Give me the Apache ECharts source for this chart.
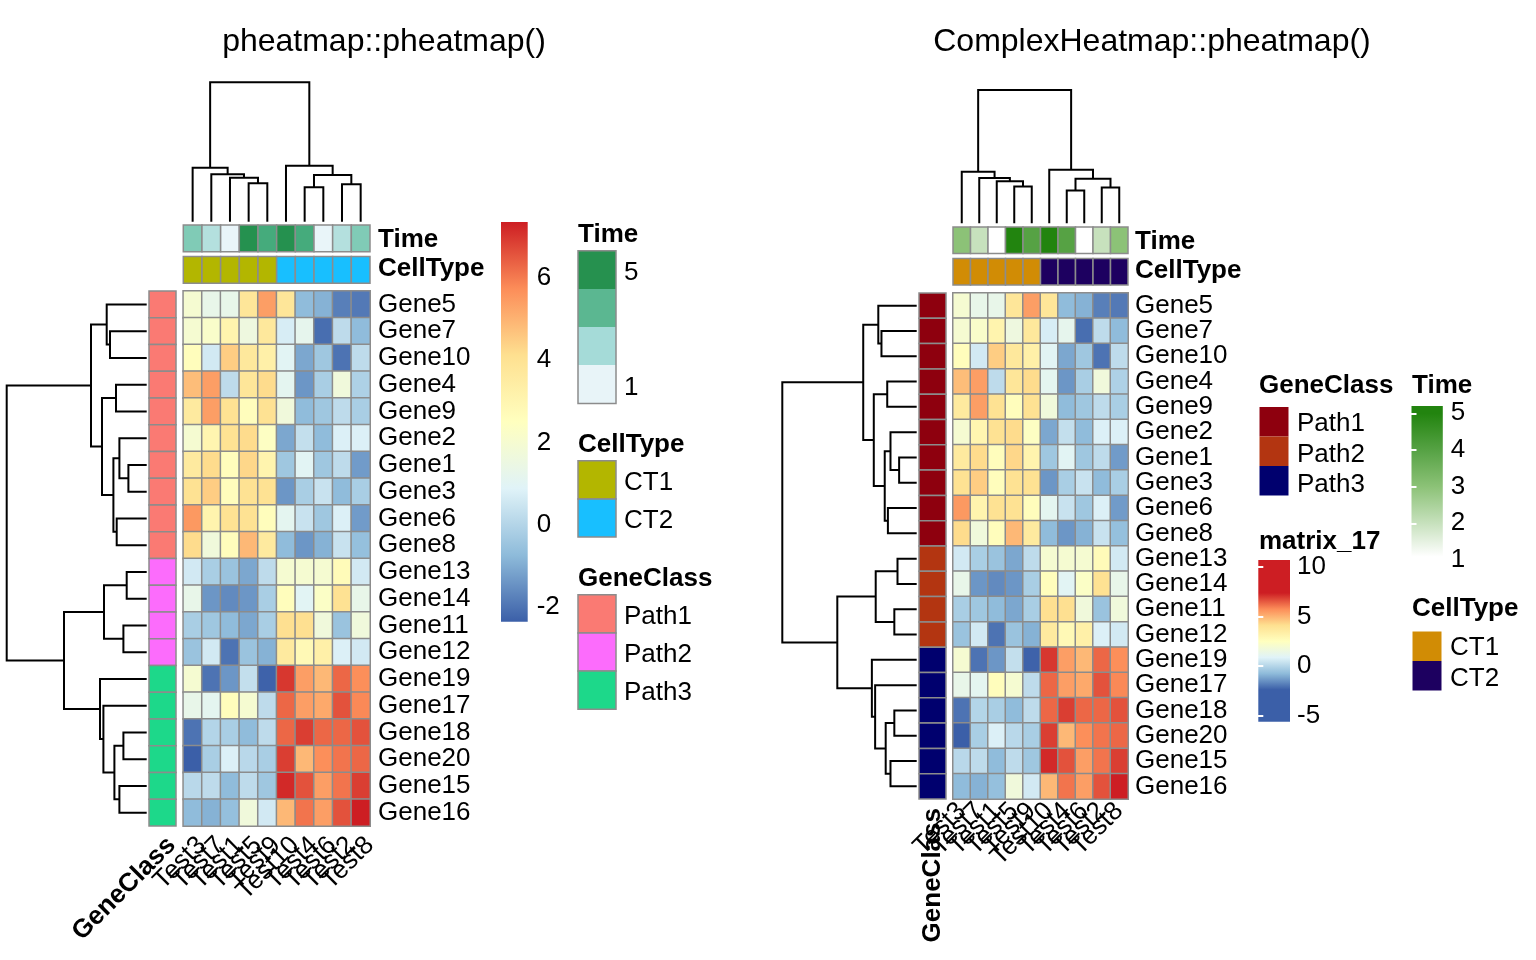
<!DOCTYPE html>
<html><head><meta charset="utf-8">
<script src="https://cdn.jsdelivr.net/npm/echarts@6/dist/echarts.min.js"></script>
<style>html,body{margin:0;padding:0;background:#fff}#c{width:1536px;height:960px}</style>
</head><body><div id="c"></div>
<script>
// ---------------- data ----------------
const genes = ['Gene5','Gene7','Gene10','Gene4','Gene9','Gene2','Gene1','Gene3','Gene6','Gene8',
  'Gene13','Gene14','Gene11','Gene12','Gene19','Gene17','Gene18','Gene20','Gene15','Gene16'];
const samples = ['Test3','Test7','Test1','Test5','Test9','Test10','Test4','Test6','Test2','Test8'];
// rows follow genes, columns follow samples
const expr = [
  [2.0, 1.3, 1.3, 3.8, 5.4, 3.8, -0.7, -0.9, -1.8, -1.9],
  [2.0, 2.2, 3.1, 1.6, 3.7, 0.7, 1.2, -2.1, 0.2, -0.7],
  [2.6, 0.6, 4.5, 3.7, 3.3, 1.0, -1.1, -0.4, -2.0, 0.2],
  [4.8, 5.4, 0.2, 3.8, 4.2, 1.1, -1.4, -0.2, 1.7, -0.1],
  [3.6, 5.4, 4.0, 2.6, 4.0, 1.7, -0.7, -0.4, 0.2, -0.2],
  [2.0, 3.0, 4.0, 4.2, 2.4, -1.1, 0.3, -0.7, 0.8, 0.8],
  [3.6, 4.2, 2.6, 4.3, 3.1, -0.4, 1.0, -0.4, 0.2, -1.3],
  [4.0, 4.5, 2.6, 4.0, 4.0, -1.4, -0.2, 0.4, -0.7, -0.2],
  [5.5, 3.1, 4.0, 4.0, 2.6, 1.1, 0.4, -0.4, 0.8, -1.3],
  [4.2, 1.7, 2.6, 4.9, 3.6, -0.7, -1.4, -0.9, 0.4, -0.6],
  [0.6, -0.2, -0.5, -1.1, 0.2, 2.0, 2.0, 2.0, 2.7, 0.6],
  [1.3, -1.4, -1.6, -1.4, -0.2, 2.6, 1.0, 2.3, 4.0, 1.3],
  [-0.2, -0.4, -0.7, -1.1, -0.2, 4.1, 4.1, 1.7, -0.5, 1.7],
  [-0.5, 0.6, -2.0, -0.5, -0.9, 3.6, 2.8, 3.3, 0.8, 0.6],
  [2.0, -2.0, -1.4, 0.3, -2.3, 7.0, 5.4, 4.9, 6.3, 5.7],
  [1.3, 1.1, 2.6, 2.0, 0.2, 6.3, 5.4, 5.2, 6.6, 5.8],
  [-2.0, 0.0, -0.2, -0.7, 0.2, 6.3, 6.9, 6.3, 6.3, 6.6],
  [-2.36, -0.2, 0.8, 0.1, -0.2, 6.9, 4.9, 5.7, 6.1, 6.3],
  [0.1, 0.2, -0.7, 0.2, -0.4, 7.2, 6.6, 5.4, 6.1, 6.9],
  [-0.7, -0.9, -0.6, 1.7, 0.6, 4.9, 6.1, 5.4, 6.6, 7.36]
];
const timeValues = [3, 2, 1, 5, 4, 5, 4, 1, 2, 3];
const cellTypes = ['CT1','CT1','CT1','CT1','CT1','CT2','CT2','CT2','CT2','CT2'];
const geneClasses = ['Path1','Path1','Path1','Path1','Path1','Path1','Path1','Path1','Path1','Path1',
  'Path2','Path2','Path2','Path2','Path3','Path3','Path3','Path3','Path3','Path3'];
// hclust-style merges: negative = leaf (1-based display position), positive = earlier merge
const colMerges = [[-4,-5],[-3,1],[-2,2],[-1,3],[-7,-8],[-9,-10],[5,6],[-6,7],[4,8]];
const colHeights = [38.4, 44.0, 47.4, 54.0, 34.4, 37.4, 46.7, 56.0, 139.4];
const rowMerges = [[-2,-3],[-1,1],[-4,-5],[-7,-8],[-6,4],[-9,-10],[5,6],[3,7],[2,8],
  [-11,-12],[-13,-14],[10,11],[-17,-18],[-19,-20],[13,14],[-16,15],[-15,16],[12,17],[9,18]];
const rowHeights = [36.7, 40.0, 30.7, 18.3, 27.3, 30.0, 33.3, 44.7, 55.7,
  20.0, 23.3, 42.7, 23.3, 27.3, 32.3, 43.3, 46.7, 82.7, 140.0];
const exprMin = -2.36, exprMax = 7.36;
const exprTicksLeft = [-2, 0, 2, 4, 6];
const exprTicksRight = [-5, 0, 5, 10];
const timeTicks = [1, 2, 3, 4, 5];
const classLevels = ['Path1','Path2','Path3'];
const cellLevels = ['CT1','CT2'];

// ---------------- styles ----------------
const FONT = '"Liberation Sans", Arial, Helvetica, sans-serif';
const palette = ['#3B5FA8','#8EBBDA','#E0F3F8','#FFFFBF','#FEE090','#FC8D59','#CD1E23'];
const timeColL = {1:'#E9F5F9', 2:'#B4E0DE', 3:'#80CBB6', 4:'#45AB7C', 5:'#25914F'};
const timeLegendL = ['#26914F','#5BB791','#A5DBD8','#E8F4F8'];
const cellColL = {CT1:'#B3B600', CT2:'#18BFFF'};
const classColL = {Path1:'#FA7A73', Path2:'#FC6CFC', Path3:'#1DD88A'};
const timeColR = {1:'#FFFFFF', 2:'#C7E1BD', 3:'#8CC277', 4:'#56A244', 5:'#22840F'};
const cellColR = {CT1:'#D18C05', CT2:'#1D0060'};
const classColR = {Path1:'#8E000E', Path2:'#B33511', Path3:'#00006E'};
const GRID_STROKE = '#8c8c8c';

// ---------------- helpers ----------------
function dendro(merges, heights) {
  const pos = [], segs = [];
  const gp = k => k < 0 ? -k - 1 : pos[k - 1];
  const gh = k => k < 0 ? 0 : heights[k - 1];
  merges.forEach((m, i) => {
    const xa = gp(m[0]), xb = gp(m[1]);
    pos[i] = (xa + xb) / 2;
    segs.push([xa, gh(m[0]), xb, gh(m[1]), heights[i]]);
  });
  return segs;
}
const colSegs = dendro(colMerges, colHeights);
const rowSegs = dendro(rowMerges, rowHeights);
const colRoot = Math.max(...colHeights), rowRoot = Math.max(...rowHeights);

function colDendroRender(params, api) {
  const xa = api.value(0), ha = api.value(1), xb = api.value(2), hb = api.value(3), h = api.value(4);
  return {type:'polyline', shape:{points:[api.coord([xa,ha]), api.coord([xa,h]), api.coord([xb,h]), api.coord([xb,hb])]},
    style:{stroke:'#000', lineWidth:2, fill:null}};
}
function rowDendroRender(params, api) {
  const xa = api.value(0), ha = api.value(1), xb = api.value(2), hb = api.value(3), h = api.value(4);
  return {type:'polyline', shape:{points:[api.coord([ha,xa]), api.coord([h,xa]), api.coord([h,xb]), api.coord([hb,xb])]},
    style:{stroke:'#000', lineWidth:2, fill:null}};
}
function annoRender(colors) {
  return function (params, api) {
    const c = api.coord([api.value(0), api.value(1)]);
    const s = api.size([1, 1]);
    const row = api.value(1);
    const rh = s[1] * 0.916;
    const y = c[1] - s[1] / 2 + (row === 0 ? 0 : s[1] - rh);
    return {type:'rect', shape:{x:c[0] - s[0] / 2, y:y, width:s[0], height:rh},
      style:{fill:colors[params.dataIndex], stroke:GRID_STROKE, lineWidth:1.5}};
  };
}
function classRender(colors) {
  return function (params, api) {
    const c = api.coord([api.value(0), api.value(1)]);
    const s = api.size([1, 1]);
    return {type:'rect', shape:{x:c[0] - s[0] / 2, y:c[1] - s[1] / 2, width:s[0], height:s[1]},
      style:{fill:colors[params.dataIndex], stroke:GRID_STROKE, lineWidth:1.5}};
  };
}
function barRender(gradient) {
  return function (params, api) {
    const p0 = api.coord([0, api.value(1)]);
    const p1 = api.coord([1, api.value(0)]);
    return {type:'rect', shape:{x:p0[0], y:p0[1], width:p1[0] - p0[0], height:p1[1] - p0[1]},
      style:{fill:gradient}};
  };
}
function exprGradient(lo, hi) {
  const stops = [];
  const step = (exprMax - exprMin) / (palette.length - 1);
  stops.push({offset:0, color:palette[palette.length - 1]});
  for (let k = palette.length - 1; k >= 0; k--) {
    const v = exprMin + k * step;
    stops.push({offset:Math.min(1, Math.max(0, (hi - v) / (hi - lo))), color:palette[k]});
  }
  stops.push({offset:1, color:palette[0]});
  return new echarts.graphic.LinearGradient(0, 0, 0, 1, stops);
}
function timeGradient(lo, hi) {
  const stops = [{offset:0, color:timeColR[5]}];
  for (let v = 5; v >= 1; v--) stops.push({offset:Math.min(1, Math.max(0, (hi - v) / (hi - lo))), color:timeColR[v]});
  stops.push({offset:1, color:'#FFFFFF'});
  return new echarts.graphic.LinearGradient(0, 0, 0, 1, stops);
}

const heatData = [];
expr.forEach((row, r) => row.forEach((v, c) => heatData.push([c, r, v])));
const colAnnoData = [], colAnnoColL = [], colAnnoColR = [];
samples.forEach((s, i) => {
  colAnnoData.push([i, 0]); colAnnoColL.push(timeColL[timeValues[i]]); colAnnoColR.push(timeColR[timeValues[i]]);
});
samples.forEach((s, i) => {
  colAnnoData.push([i, 1]); colAnnoColL.push(cellColL[cellTypes[i]]); colAnnoColR.push(cellColR[cellTypes[i]]);
});
const classData = geneClasses.map((g, i) => [0, i]);
const classColorsL = geneClasses.map(g => classColL[g]);
const classColorsR = geneClasses.map(g => classColR[g]);

// ---------------- layout ----------------
const L = {hx:183.3, hw:186.7, ht:291, hh:535, dTop:82.3, dH:139.4, aTop:225, aH:58.3, gcX:149, gcW:27, rdX:6.7, rdW:140};
const R = {hx:953, hw:175, ht:293, hh:506, dTop:90, dH:133.3, aTop:227, aH:58, gcX:919, gcW:27, rdX:782.3, rdW:134.4};

const grids = [], xAxes = [], yAxes = [], series = [];
function addGrid(g) { g.outerBoundsMode = 'none'; g.containLabel = false; grids.push(g); return grids.length - 1; }
const hidden = {show:false};
const lab = (extra) => Object.assign({color:'#000', fontSize:26, fontFamily:FONT}, extra || {});

function buildPanel(P, cfg) {
  // column dendrogram
  let g = addGrid({left:P.hx, top:P.dTop, width:P.hw, height:P.dH});
  xAxes.push({gridIndex:g, type:'value', min:-0.5, max:samples.length - 0.5, show:false});
  yAxes.push({gridIndex:g, type:'value', min:0, max:colRoot, show:false});
  series.push({type:'custom', xAxisIndex:xAxes.length - 1, yAxisIndex:yAxes.length - 1, clip:false, silent:true,
    renderItem:colDendroRender, data:colSegs});
  // column annotations
  g = addGrid({left:P.hx, top:P.aTop, width:P.hw, height:P.aH});
  xAxes.push({gridIndex:g, type:'category', data:samples, show:false});
  yAxes.push({gridIndex:g, type:'category', data:['Time','CellType'], inverse:true, position:'right',
    axisLine:hidden, axisTick:hidden, axisLabel:lab({fontWeight:'bold', interval:0, margin:cfg.lblMargin, padding:[5,0,0,0]})});
  series.push({type:'custom', xAxisIndex:xAxes.length - 1, yAxisIndex:yAxes.length - 1, silent:true,
    renderItem:annoRender(cfg.annoColors), data:colAnnoData});
  // heatmap
  g = addGrid({left:P.hx, top:P.ht, width:P.hw, height:P.hh});
  xAxes.push({gridIndex:g, type:'category', data:samples, position:'bottom', axisLine:hidden, axisTick:hidden,
    axisLabel:lab(Object.assign({rotate:45, interval:0, margin:cfg.xMargin}, cfg.xLabelExtra || {}))});
  yAxes.push({gridIndex:g, type:'category', data:genes, inverse:true, position:'right', axisLine:hidden, axisTick:hidden,
    axisLabel:lab({interval:0, margin:cfg.lblMargin, padding:[6,0,0,0]})});
  series.push({type:'heatmap', xAxisIndex:xAxes.length - 1, yAxisIndex:yAxes.length - 1, data:heatData, silent:true,
    itemStyle:{borderColor:GRID_STROKE, borderWidth:1.5}});
  cfg.heatIdx.push(series.length - 1);
  // gene class annotation
  g = addGrid({left:P.gcX, top:P.ht, width:P.gcW, height:P.hh});
  xAxes.push({gridIndex:g, type:'category', data:['GeneClass'], position:'bottom', axisLine:hidden, axisTick:hidden,
    axisLabel:lab(Object.assign({rotate:cfg.gcRotate, fontWeight:'bold', interval:0, margin:cfg.gcMargin}, cfg.xLabelExtra || {}))});
  yAxes.push({gridIndex:g, type:'category', data:genes, inverse:true, show:false});
  series.push({type:'custom', xAxisIndex:xAxes.length - 1, yAxisIndex:yAxes.length - 1, silent:true,
    renderItem:classRender(cfg.classColors), data:classData});
  // row dendrogram
  g = addGrid({left:P.rdX, top:P.ht, width:P.rdW, height:P.hh});
  xAxes.push({gridIndex:g, type:'value', min:0, max:rowRoot, inverse:true, show:false});
  yAxes.push({gridIndex:g, type:'value', min:-0.5, max:genes.length - 0.5, inverse:true, show:false});
  series.push({type:'custom', xAxisIndex:xAxes.length - 1, yAxisIndex:yAxes.length - 1, clip:false, silent:true,
    renderItem:rowDendroRender, data:rowSegs});
}

const heatIdx = [];
buildPanel(L, {annoColors:colAnnoColL, classColors:classColorsL, heatIdx, lblMargin:8, xMargin:6, gcRotate:45, gcMargin:6,
  xLabelExtra:{align:'right', verticalAlign:'top'}});

// left colour bar
let gb = addGrid({left:501, top:278, width:26.7, height:329});
xAxes.push({gridIndex:gb, type:'value', min:0, max:1, show:false});
yAxes.push({gridIndex:gb, type:'value', min:exprTicksLeft[0], max:exprTicksLeft[exprTicksLeft.length - 1], interval:2,
  position:'right', axisLine:hidden, axisTick:hidden, splitLine:hidden, axisLabel:lab({margin:9})});
series.push({type:'custom', xAxisIndex:xAxes.length - 1, yAxisIndex:yAxes.length - 1, clip:false, silent:true,
  renderItem:barRender(exprGradient(exprMin, exprMax)), data:[[exprMin, exprMax]]});

buildPanel(R, {annoColors:colAnnoColR, classColors:classColorsR, heatIdx, lblMargin:7, xMargin:8, gcRotate:90, gcMargin:9});

// matrix_17 colour bar
gb = addGrid({left:1258.3, top:566.7, width:31.7, height:149.3});
xAxes.push({gridIndex:gb, type:'value', min:0, max:1, show:false});
const tickStyle = {show:true, inside:true, length:5, lineStyle:{color:'#fff', width:2}};
yAxes.push({gridIndex:gb, type:'value', min:exprTicksRight[0], max:exprTicksRight[exprTicksRight.length - 1], interval:5, z:5,
  position:'right', axisLine:hidden, axisTick:tickStyle, splitLine:hidden, axisLabel:lab({margin:7, padding:[4,0,0,0]})});
const m17y = yAxes.length - 1;
yAxes.push({gridIndex:gb, type:'value', min:exprTicksRight[0], max:exprTicksRight[exprTicksRight.length - 1], interval:5, z:5,
  position:'left', axisLine:hidden, axisTick:tickStyle, splitLine:hidden, axisLabel:hidden});
series.push({type:'custom', xAxisIndex:xAxes.length - 1, yAxisIndex:m17y, clip:false, silent:true, z:2,
  renderItem:barRender(exprGradient(-5.57, 10.67)), data:[[-5.57, 10.67]]});

// Time colour bar (right)
gb = addGrid({left:1411.5, top:413.3, width:31.3, height:146.7});
xAxes.push({gridIndex:gb, type:'value', min:0, max:1, show:false});
yAxes.push({gridIndex:gb, type:'value', min:timeTicks[0], max:timeTicks[timeTicks.length - 1], interval:1, z:5,
  position:'right', axisLine:hidden, axisTick:tickStyle, splitLine:hidden, axisLabel:lab({margin:8, padding:[4,0,0,0]})});
const try_ = yAxes.length - 1;
yAxes.push({gridIndex:gb, type:'value', min:timeTicks[0], max:timeTicks[timeTicks.length - 1], interval:1, z:5,
  position:'left', axisLine:hidden, axisTick:tickStyle, splitLine:hidden, axisLabel:hidden});
series.push({type:'custom', xAxisIndex:xAxes.length - 1, yAxisIndex:try_, clip:false, silent:true, z:2,
  renderItem:barRender(timeGradient(1.09, 5.2)), data:[[1.09, 5.2]]});

// ---------------- legends & titles (graphic) ----------------
const gfx = [];
const DY = 2;
function txt(x, y, s, opt) {
  opt = opt || {};
  gfx.push({type:'text', x:x, y:y + DY, silent:true, style:{text:s, fill:'#000',
    font:(opt.bold ? 'bold ' : '') + (opt.size || 26) + 'px ' + FONT,
    textAlign:opt.align || 'left', textVerticalAlign:'middle', verticalAlign:'middle'}});
}
function rect(x, y, w, h, fill, stroke) {
  gfx.push({type:'rect', silent:true, shape:{x:x, y:y, width:w, height:h},
    style:{fill:fill || 'none', stroke:stroke || null, lineWidth:stroke ? 1.5 : 0}});
}
txt(384, 40, 'pheatmap::pheatmap()', {size:32, align:'center'});
txt(1152, 40, 'ComplexHeatmap::pheatmap()', {size:32, align:'center'});

// left legends
txt(578, 233, 'Time', {bold:true});
timeLegendL.forEach((c, i) => rect(578, 250.7 + i * 38.2, 38, 38.2, c, null));
rect(578, 250.7, 38, 152.8, null, GRID_STROKE);
txt(624, 271, String(timeTicks[4])); txt(624, 386, String(timeTicks[0]));
txt(578, 443, 'CellType', {bold:true});
cellLevels.forEach((lv, i) => { rect(578, 460.7 + i * 38.2, 38, 38.2, cellColL[lv], GRID_STROKE); txt(624, 481 + i * 38, lv); });
txt(578, 577, 'GeneClass', {bold:true});
classLevels.forEach((lv, i) => { rect(578, 594.7 + i * 38.2, 38, 38.2, classColL[lv], GRID_STROKE); txt(624, 615 + i * 38, lv); });

// right legends
txt(1259, 384, 'GeneClass', {bold:true});
classLevels.forEach((lv, i) => { rect(1259.5, 407 + i * 29.5, 29, 29.5, classColR[lv], null); txt(1297, 422 + i * 30.5, lv); });
txt(1259, 540, 'matrix_17', {bold:true});
txt(1412, 384, 'Time', {bold:true});
txt(1412, 607, 'CellType', {bold:true});
cellLevels.forEach((lv, i) => { rect(1412.5, 631.5 + i * 29.5, 29, 29.5, cellColR[lv], null); txt(1450, 646 + i * 31, lv); });

const chart = echarts.init(document.getElementById('c'), null, {renderer:'canvas'});
chart.setOption({
  backgroundColor:'#fff',
  animation:false,
  textStyle:{fontFamily:FONT},
  grid:grids,
  xAxis:xAxes,
  yAxis:yAxes,
  visualMap:[{type:'continuous', show:false, min:exprMin, max:exprMax, dimension:2, seriesIndex:heatIdx,
    inRange:{color:palette}}],
  graphic:{elements:gfx},
  series:series
});
</script>
</body></html>
